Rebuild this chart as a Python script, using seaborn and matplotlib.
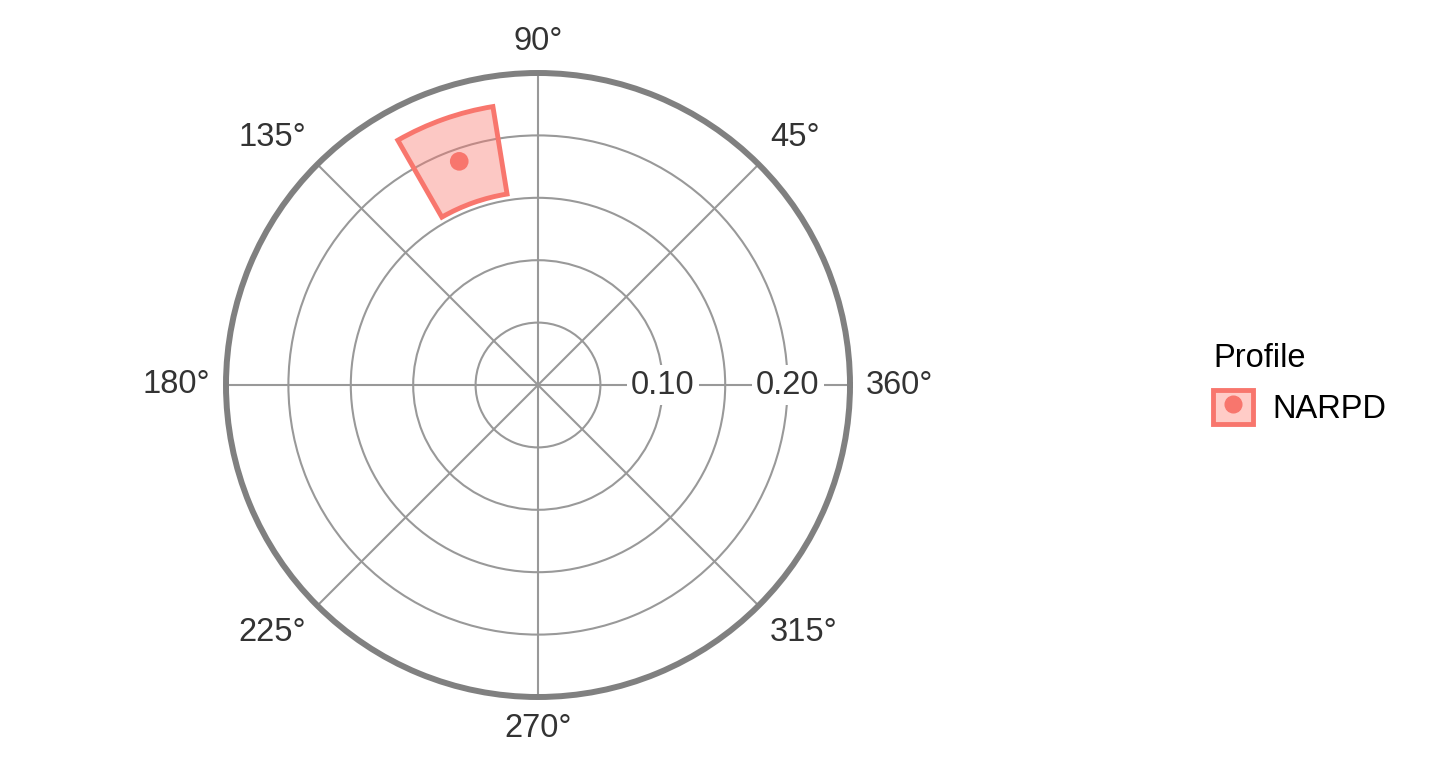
import numpy as np
import matplotlib
matplotlib.use("Agg")
import matplotlib.pyplot as plt
import seaborn as sns
import pandas as pd
from matplotlib.patches import Patch
from matplotlib.lines import Line2D
from matplotlib.legend_handler import HandlerTuple

# profile estimate (angle in degrees, displacement)
profiles = ["NARPD"]
angle_est = [109.4]
disp_est = [0.190]
# confidence intervals
angle_lo = [99.2]
angle_hi = [119.8]
disp_lo = [0.155]
disp_hi = [0.226]

r_breaks = [0.05, 0.10, 0.15, 0.20]
r_labels = ["0.10", "0.20"]
r_label_vals = [0.10, 0.20]
deg_breaks = [0, 45, 90, 135, 180, 225, 270, 315]
deg_labels = ["360°", "45°", "90°", "135°", "180°", "225°", "270°", "315°"]
r_max = 0.25

red = "#F8766D"
grid_col = "#999999"
txt_col = "#333333"
fs = 23.5

sns.set_style("white")
plt.rcParams["font.family"] = ["Liberation Sans", "DejaVu Sans"]

df = pd.DataFrame({"Profile": profiles,
                   "theta": np.deg2rad(angle_est),
                   "r": disp_est})

fig = plt.figure(figsize=(14.4, 7.68), dpi=100)
ax = fig.add_axes([226 / 1440, 71 / 768, 624 / 1440, 624 / 768], projection="polar")
ax.set_facecolor("white")
ax.set_ylim(0, r_max)
ax.set_rticks(r_breaks)
ax.set_yticklabels([])
ax.set_thetagrids(deg_breaks, labels=[])
ax.grid(True, color=grid_col, linewidth=1.5, zorder=1)
ax.spines["polar"].set_color("#808080")
ax.spines["polar"].set_linewidth(4.3)
ax.tick_params(length=0)

# confidence wedge
lo = np.deg2rad(angle_lo)
hi = np.deg2rad(angle_hi)
ax.bar((lo + hi) / 2, np.array(disp_hi) - np.array(disp_lo), width=hi - lo,
       bottom=disp_lo, color=red, alpha=0.4, linewidth=0, zorder=2)
ax.bar((lo + hi) / 2, np.array(disp_hi) - np.array(disp_lo), width=hi - lo,
       bottom=disp_lo, facecolor="none", edgecolor=red, linewidth=3.5, zorder=4)

sns.scatterplot(data=df, x="theta", y="r", ax=ax, color=red, s=180,
                edgecolor="none", zorder=5, legend=False)
ax.set_xlabel("")
ax.set_ylabel("")
ax.set_ylim(0, r_max)

# radial labels along 0 degree line
for v, lab in zip(r_label_vals, r_labels):
    ax.text(0, v, lab, ha="center", va="center", fontsize=fs, color=txt_col,
            bbox=dict(facecolor="white", edgecolor="none", pad=3), zorder=6)

# angle labels outside the circle
for d, lab in zip(deg_breaks, deg_labels):
    c, s = np.cos(np.deg2rad(d)), np.sin(np.deg2rad(d))
    ha = "center" if abs(c) < 0.1 else ("left" if c > 0 else "right")
    va = "center" if abs(s) < 0.1 else ("bottom" if s > 0 else "top")
    ax.text(np.deg2rad(d), 0.263, lab, ha=ha, va=va, fontsize=fs,
            color=txt_col, clip_on=False)

# legend
h = (Patch(facecolor=(1, 0.8, 0.78), edgecolor=red, linewidth=3.5),
     Line2D([], [], marker="o", color=red, linestyle="none", markersize=12))
leg = fig.legend([h], profiles, title="Profile", loc="center left",
                 bbox_to_anchor=(1184 / 1440, 0.5), frameon=False, fontsize=fs,
                 title_fontsize=fs, handler_map={tuple: HandlerTuple(ndivide=1)},
                 handlelength=1.2, handleheight=1.2, handletextpad=0.6,
                 labelcolor="black")
leg.get_title().set_color("black")
leg._legend_box.align = "left"

fig.savefig("out.png", dpi=100, facecolor="white")
